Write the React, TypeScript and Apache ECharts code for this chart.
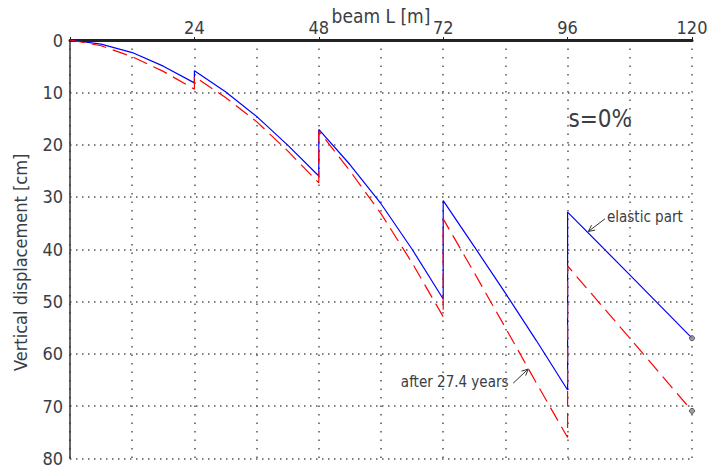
import React, { useEffect, useRef } from 'react';
import * as echarts from 'echarts';

// Beam position [m] (duplicated x = vertical jump at segment joints)
const beamX = [0, 6, 12, 18, 24, 24, 30, 36, 42, 48, 48, 54, 60, 66, 72, 72, 78, 84, 90, 96, 96, 108, 120];
// Elastic part [cm]
const elasticY = [0, 0.8, 2.4, 5.0, 8.2, 5.9, 9.9, 14.6, 20.1, 26.0, 17.1, 23.8, 31.3, 40.0, 49.5, 30.7, 39.5, 48.4, 57.5, 66.9, 32.9, 44.9, 57.0];
// After 27.4 years [cm]
const after27Y = [0, 1.1, 3.2, 6.0, 9.4, 7.0, 11.0, 15.6, 21.2, 27.3, 17.4, 25.0, 33.2, 42.6, 52.9, 34.2, 44.5, 55.0, 65.6, 76.0, 43.2, 57.0, 70.9];

const xLabelTicks = [24, 48, 72, 96, 120];
const yTicks = [0, 10, 20, 30, 40, 50, 60, 70, 80];

// Annotation anchors in data coordinates
const sLabel = { text: 's=0%', at: [102.3, 15.1] };
const elasticNote = { text: 'elastic part', textAt: [103.6, 33.8], tip: [100.0, 36.6] };
const afterNote = { text: 'after 27.4 years', textAt: [84.6, 65.3], tail: [85.5, 65.6], tip: [88.4, 62.9] };
const yTitle = { text: 'Vertical displacement [cm]', centerY: 42.5 };

const FONT = "'Liberation Sans Narrow', 'DejaVu Sans Condensed', 'Roboto', sans-serif";
const TXT = '#3a3d44';

export default function App() {
  const ref = useRef<HTMLDivElement>(null);
  useEffect(() => {
    const chart = echarts.init(ref.current!, null, { renderer: 'svg' });
    const elastic = beamX.map((x, i) => [x, elasticY[i]]);
    const after = beamX.map((x, i) => [x, after27Y[i]]);
    const ends = [elastic[elastic.length - 1], after[after.length - 1]];

    chart.setOption({
      animation: false,
      textStyle: { fontFamily: FONT },
      grid: { left: 70, right: 16, top: 40, bottom: 6.5, containLabel: false, outerBoundsMode: 'none' },
      xAxis: [
        {
          type: 'value', position: 'top', min: 0, max: 120, interval: 12,
          axisLine: { show: true, lineStyle: { color: '#222', width: 3 } },
          axisTick: { show: false },
          axisLabel: { show: false },
          splitLine: { show: true, lineStyle: { color: '#555', width: 1.5, type: [1.5, 7] } },
        },
        {
          type: 'value', position: 'top', min: 0, max: 120, interval: 24,
          axisLine: { show: false },
          axisTick: { show: true, length: 3, lineStyle: { color: '#222', width: 1 } },
          axisLabel: {
            fontSize: 18, color: TXT, fontFamily: FONT, margin: 4,
            formatter: (v: number) => (xLabelTicks.includes(v) ? String(v) : ''),
          },
          splitLine: { show: false },
          name: 'beam L [m]', nameLocation: 'middle', nameGap: 15, nameMoveOverlap: false,
          nameTextStyle: { fontSize: 19, color: TXT, fontFamily: FONT },
        },
      ],
      yAxis: {
        type: 'value', inverse: true, min: 0, max: 80, interval: 10,
        axisLine: { show: true, lineStyle: { color: '#333', width: 1.5 } },
        axisTick: { show: false },
        axisLabel: {
          fontSize: 18, color: TXT, fontFamily: FONT, margin: 7,
          formatter: (v: number) => (yTicks.includes(v) ? String(v) : ''),
        },
        splitLine: { show: true, lineStyle: { color: '#555', width: 1.5, type: [1.5, 4.5] } },
      },
      series: [
        {
          name: 'elastic part', type: 'line', xAxisIndex: 0, data: elastic,
          symbol: 'none', lineStyle: { color: '#0000ff', width: 1.2 }, z: 3,
        },
        {
          name: 'after 27.4 years', type: 'line', xAxisIndex: 0, data: after,
          symbol: 'none', lineStyle: { color: '#ff0000', width: 1.2, type: [15, 7] }, z: 4,
        },
        {
          type: 'scatter', xAxisIndex: 0, data: ends, symbol: 'circle', symbolSize: 5,
          itemStyle: { color: '#9090a0', borderColor: '#333', borderWidth: 1 }, z: 5,
        },
      ],
    });

    const px = (p: number[]) => chart.convertToPixel({ xAxisIndex: 0, yAxisIndex: 0 }, p) as number[];
    const arrow = (from: number[], to: number[]) => {
      const ang = Math.atan2(to[1] - from[1], to[0] - from[0]);
      const L = 7, a = 0.45;
      const p1 = [to[0] - L * Math.cos(ang - a), to[1] - L * Math.sin(ang - a)];
      const p2 = [to[0] - L * Math.cos(ang + a), to[1] - L * Math.sin(ang + a)];
      return [
        { type: 'line', shape: { x1: from[0], y1: from[1], x2: to[0], y2: to[1] }, style: { stroke: '#333', lineWidth: 1 }, z: 10 },
        { type: 'polyline', shape: { points: [p1, to, p2] }, style: { stroke: '#333', lineWidth: 1, fill: null }, z: 10 },
      ];
    };
    const sP = px(sLabel.at);
    const eT = px(elasticNote.textAt);
    const eTip = px(elasticNote.tip);
    const aT = px(afterNote.textAt);
    const aTail = px(afterNote.tail);
    const aTip = px(afterNote.tip);
    const yT = px([0, yTitle.centerY]);

    chart.setOption({
      graphic: [
        { type: 'text', x: 20, y: yT[1], rotation: Math.PI / 2, z: 10, style: { text: yTitle.text, fontSize: 18, fill: TXT, fontFamily: FONT, align: 'center', verticalAlign: 'middle' } },
        { type: 'text', x: sP[0], y: sP[1], z: 10, style: { text: sLabel.text, fontSize: 24, fill: TXT, fontFamily: FONT, align: 'center', verticalAlign: 'middle' } },
        { type: 'text', x: eT[0], y: eT[1], z: 10, style: { text: elasticNote.text, fontSize: 15, fill: TXT, fontFamily: FONT, align: 'left', verticalAlign: 'middle' } },
        ...arrow([eT[0] - 2, eT[1] + 2], eTip),
        { type: 'text', x: aT[0], y: aT[1], z: 10, style: { text: afterNote.text, fontSize: 15, fill: TXT, fontFamily: FONT, align: 'right', verticalAlign: 'middle' } },
        ...arrow(aTail, aTip),
      ],
    });

    return () => chart.dispose();
  }, []);
  return <div ref={ref} style={{ position: 'fixed', left: 0, top: 0, width: 708, height: 465, background: '#fff' }} />;
}
